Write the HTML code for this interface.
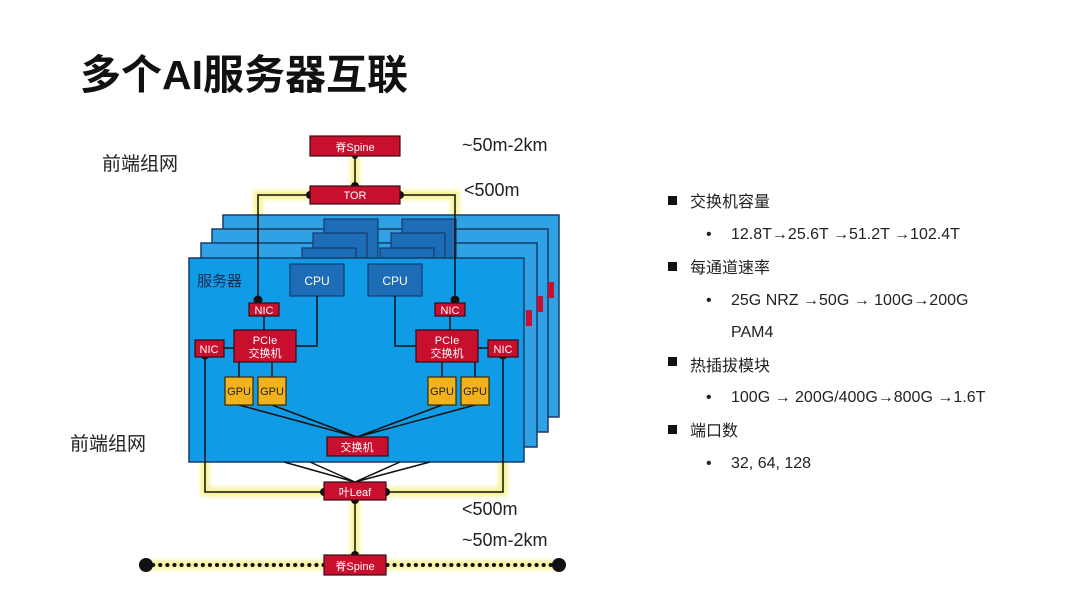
<!DOCTYPE html>
<html><head><meta charset="utf-8"><style>
body{margin:0;background:#fff;}
svg text{font-family:"Liberation Sans","Noto Sans CJK SC",sans-serif;}
</style></head><body>
<svg width="1080" height="607" viewBox="0 0 1080 607" xmlns="http://www.w3.org/2000/svg">
<defs>
<filter id="glow" x="-20%" y="-20%" width="140%" height="140%"><feGaussianBlur stdDeviation="2"/></filter>
</defs>
<text x="80" y="89" font-size="41" font-weight="bold" fill="#111">多个AI服务器互联</text>
<text x="102" y="170" font-size="19" fill="#222">前端组网</text>
<text x="70" y="450" font-size="19" fill="#222">前端组网</text>
<text x="462" y="151" font-size="18" fill="#222">~50m-2km</text>
<text x="464" y="196" font-size="18" fill="#222">&lt;500m</text>
<text x="462" y="515" font-size="18" fill="#222">&lt;500m</text>
<text x="462" y="546" font-size="18" fill="#222">~50m-2km</text>

<g stroke="#f5f07a" stroke-width="9" fill="none" opacity="0.8" filter="url(#glow)">
<path d="M355 156 V195 M310 195 H258 V300 M400 195 H455 V300"/>
<path d="M205 356 V492 H324 M503 356 V492 H386 M355 500 V565"/>
<path d="M146 565 H559"/>
</g>

<rect x="223" y="215" width="336" height="202" fill="#2ea2e4" stroke="#1a3a66" stroke-width="1.5"/>
<rect x="212" y="229" width="336" height="203" fill="#2ea2e4" stroke="#1a3a66" stroke-width="1.5"/>
<rect x="201" y="243" width="336" height="204" fill="#2ea2e4" stroke="#1a3a66" stroke-width="1.5"/>
<g fill="#1c6db5" stroke="#163a70" stroke-width="1.2">
<rect x="324" y="219" width="54" height="40"/><rect x="402" y="219" width="54" height="40"/>
<rect x="313" y="233" width="54" height="40"/><rect x="391" y="233" width="54" height="40"/>
<rect x="302" y="248" width="54" height="40"/><rect x="380" y="248" width="54" height="40"/>
</g>
<g fill="#c8102e"><rect x="537" y="296" width="6" height="16"/><rect x="526" y="310" width="6" height="16"/><rect x="548" y="282" width="6" height="16"/></g>
<rect x="189" y="258" width="335" height="204" fill="#0f9be6" stroke="#1a3a66" stroke-width="1.5"/>
<text x="197" y="286" font-size="15" fill="#1a2a50">服务器</text>
<rect x="290" y="264" width="54" height="32" fill="#1c6db5" stroke="#163a70" stroke-width="1.2"/>
<rect x="368" y="264" width="54" height="32" fill="#1c6db5" stroke="#163a70" stroke-width="1.2"/>
<text x="317" y="285" font-size="12" fill="#fff" text-anchor="middle">CPU</text>
<text x="395" y="285" font-size="12" fill="#fff" text-anchor="middle">CPU</text>

<g stroke="#111" stroke-width="1.5" fill="none">
<path d="M355 156 V186 M310 195 H258 V300 M400 195 H455 V300"/>
<path d="M264 316 V330 M450 316 V330 M296 346 H317 V296 M416 346 H395 V296 M224 348 H234 M478 348 H488"/>
<path d="M239 362 V377 M272 362 V377 M442 362 V377 M475 362 V377"/>
<path d="M239 405 L357 437 M272 405 L357 437 M442 405 L357 437 M475 405 L357 437"/>
<path d="M284 462 L355 482 M310 462 L355 482 M400 462 L355 482 M430 462 L355 482"/>
<path d="M205 356 V492 H324 M503 356 V492 H386 M355 500 V555"/>
</g>
<path d="M146 565 H559" stroke="#111" stroke-width="4" stroke-dasharray="0.1,7" stroke-linecap="round"/>
<g fill="#111">
<circle cx="146" cy="565" r="7"/><circle cx="559" cy="565" r="7"/>
<circle cx="355" cy="186" r="4"/><circle cx="355" cy="156" r="3"/>
<circle cx="310" cy="195" r="4"/><circle cx="400" cy="195" r="4"/>
<circle cx="258" cy="300" r="4.5"/><circle cx="455" cy="300" r="4.5"/>
<circle cx="205" cy="355" r="4.5"/><circle cx="503" cy="355" r="4.5"/>
<circle cx="324" cy="492" r="4"/><circle cx="386" cy="492" r="4"/>
<circle cx="355" cy="500" r="4"/><circle cx="355" cy="555" r="4"/>
</g>

<g fill="#c8102e" stroke="#3a0a10" stroke-width="1.2">
<rect x="310" y="136" width="90" height="20"/>
<rect x="310" y="186" width="90" height="18"/>
<rect x="249" y="303" width="30" height="13"/><rect x="435" y="303" width="30" height="13"/>
<rect x="195" y="340" width="29" height="17"/><rect x="488" y="340" width="30" height="17"/>
<rect x="234" y="330" width="62" height="32"/><rect x="416" y="330" width="62" height="32"/>
<rect x="327" y="437" width="61" height="19"/>
<rect x="324" y="482" width="62" height="18"/>
<rect x="324" y="555" width="62" height="20"/>
</g>
<g fill="#f2b21c" stroke="#3a2a00" stroke-width="1.2">
<rect x="225" y="377" width="28" height="28"/><rect x="258" y="377" width="28" height="28"/>
<rect x="428" y="377" width="28" height="28"/><rect x="461" y="377" width="28" height="28"/>
</g>
<g font-size="11" fill="#fff" text-anchor="middle">
<text x="355" y="151">脊Spine</text>
<text x="355" y="199">TOR</text>
<text x="264" y="314">NIC</text><text x="450" y="314">NIC</text>
<text x="209" y="353">NIC</text><text x="503" y="353">NIC</text>
<text x="265" y="344">PCIe</text><text x="265" y="357">交换机</text>
<text x="447" y="344">PCIe</text><text x="447" y="357">交换机</text>
<text x="357" y="451">交换机</text>
<text x="355" y="496">叶Leaf</text>
<text x="355" y="570">脊Spine</text>
</g>
<g font-size="11" fill="#222" text-anchor="middle">
<text x="239" y="395">GPU</text><text x="272" y="395">GPU</text>
<text x="442" y="395">GPU</text><text x="475" y="395">GPU</text>
</g>

<g fill="#111"><rect x="668" y="196" width="9" height="9"/><rect x="668" y="262" width="9" height="9"/><rect x="668" y="357" width="9" height="9"/><rect x="668" y="425" width="9" height="9"/></g>
<g font-size="16" fill="#222">
<text x="690" y="207">交换机容量</text>
<text x="706" y="239">•</text><text x="731" y="239">12.8T→25.6T →51.2T →102.4T</text>
<text x="690" y="273">每通道速率</text>
<text x="706" y="305">•</text><text x="731" y="305">25G NRZ →50G → 100G→200G</text>
<text x="731" y="337">PAM4</text>
<text x="690" y="371">热插拔模块</text>
<text x="706" y="402">•</text><text x="731" y="402">100G → 200G/400G→800G →1.6T</text>
<text x="690" y="436">端口数</text>
<text x="706" y="468">•</text><text x="731" y="468">32, 64, 128</text>
</g>
</svg>
</body></html>
